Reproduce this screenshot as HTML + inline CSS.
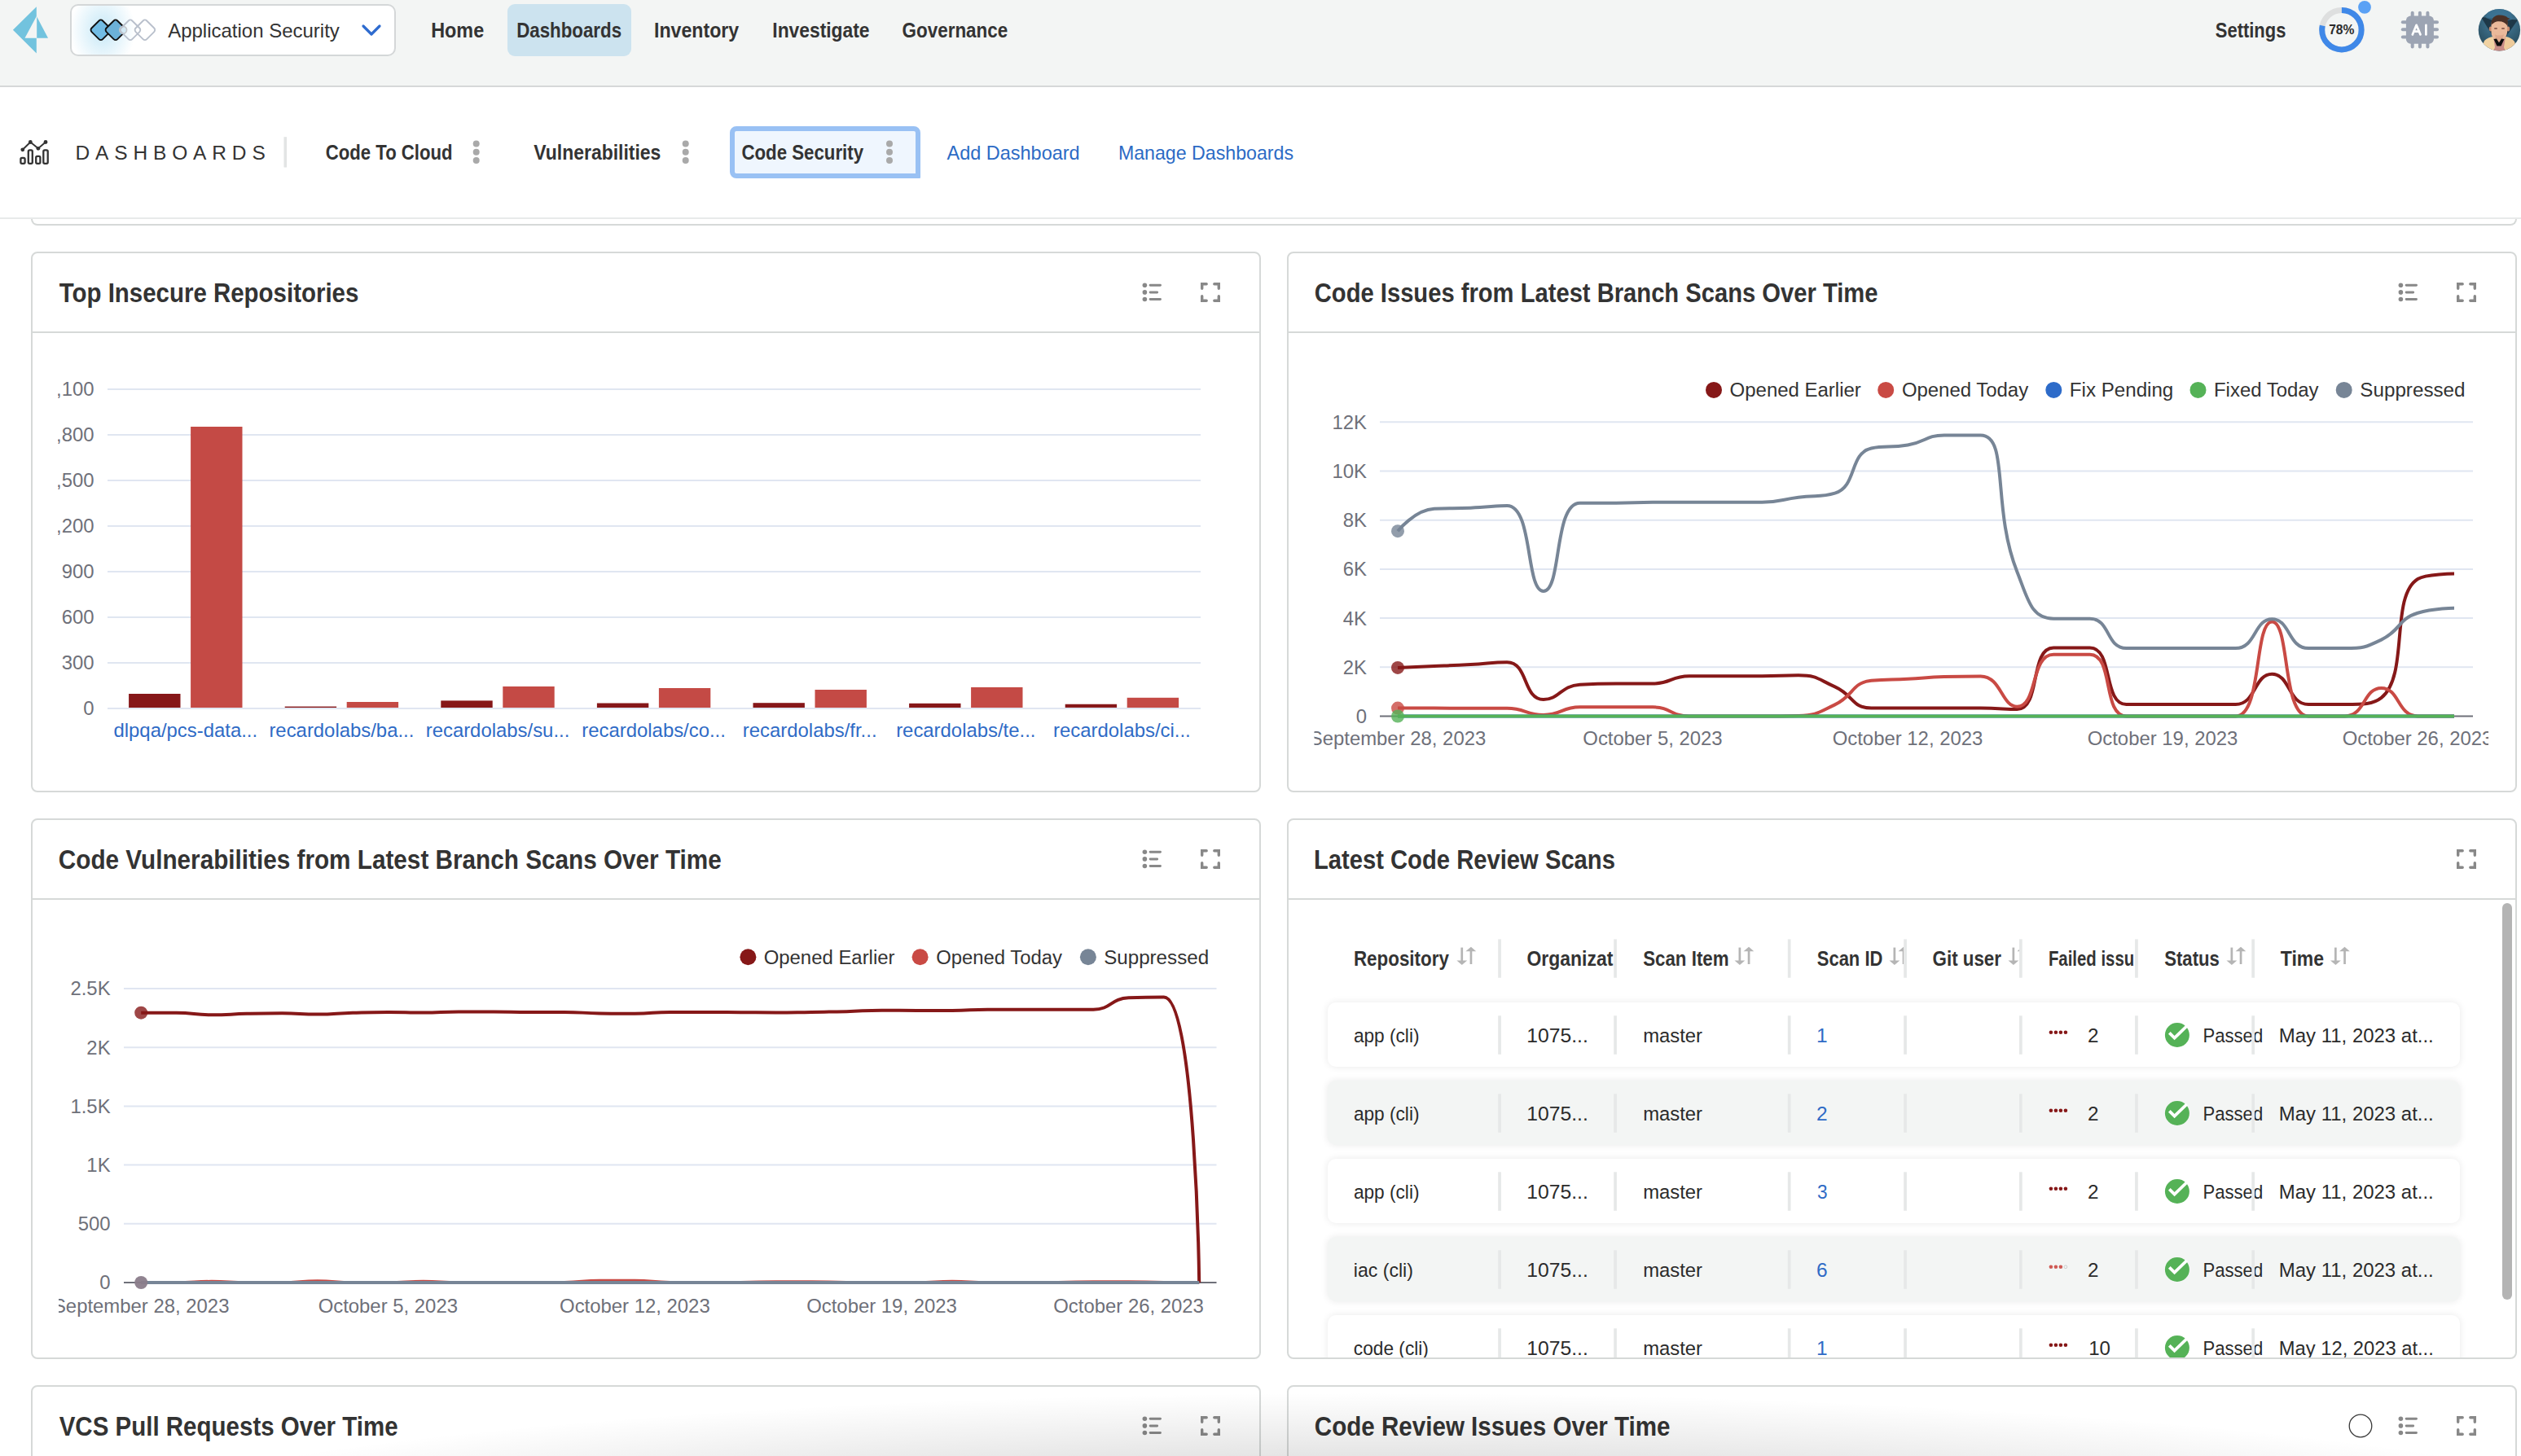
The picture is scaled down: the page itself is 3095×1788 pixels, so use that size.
<!DOCTYPE html>
<html><head><meta charset="utf-8"><title>Dashboards - Application Security</title>
<style>html,body{margin:0;padding:0}
body{width:3095px;height:1788px;overflow:hidden;position:relative;background:#fff;font-family:"Liberation Sans",sans-serif}
.ov{position:absolute;left:0;top:0;z-index:10}
.fade{position:absolute;left:0;top:1600px;width:3095px;height:188px;z-index:20;pointer-events:none;
background:radial-gradient(ellipse 1650px 190px at 1680px 300px, rgba(0,0,0,0.25), rgba(0,0,0,0) 100%)}

.nav{position:absolute;left:0;top:0;width:3095px;height:105px;background:#f3f5f4;border-bottom:2px solid #d6d8d8}
.dbar{position:absolute;left:0;top:107px;width:3095px;height:160px;background:#fff;border-bottom:2px solid #e8eaea;z-index:2}
.prevcard{position:absolute;left:38px;top:150px;width:3048px;height:125px;border:2px solid #d6d9d8;border-top:none;border-radius:0 0 8px 8px;background:#fff;z-index:1}
.appsel{position:absolute;left:86px;top:5px;width:396px;height:60px;border:2px solid #d4d7d8;border-radius:10px;background:#fff;overflow:hidden}
.glow{position:absolute;left:-2px;top:-20px;width:80px;height:100px;background:radial-gradient(closest-side,rgba(120,200,235,0.42),rgba(120,200,235,0))}
.navhl{position:absolute;left:623px;top:5px;width:152px;height:64px;border-radius:9px;background:#cce3ef}
.cssel{position:absolute;left:896px;top:155px;width:222px;height:52px;border:6px solid #99c1f4;border-radius:8px 8px 1px 8px;background:#eff6fe;z-index:3}

.card{position:absolute;width:1506px;height:660px;border:2px solid #d6d9d8;border-radius:8px;background:#fff}
.chd{position:absolute;left:0;top:0;width:1506px;height:96px;border-bottom:2px solid #d6d9d8}

.tclip{position:absolute;left:1582px;top:1106px;width:1506px;height:561px;overflow:hidden;border-radius:0 0 6px 6px}
.trow{position:absolute;left:48px;width:1390px;height:79px;border-radius:10px}
.trow.w{background:#fff;box-shadow:0 0 10px rgba(0,0,0,0.09)}
.trow.g{background:#f3f5f4;box-shadow:0 0 10px rgba(0,0,0,0.09)}
.tscroll{position:absolute;left:1490px;top:3px;width:12px;height:487px;border-radius:6px;background:#b4b4b4}
</style></head>
<body>
<div class="nav"></div><div class="dbar"></div>
<div class="prevcard"></div>
<div class="appsel"><div class="glow"></div></div>
<div class="navhl"></div>
<div class="cssel"></div>
<div class="card" style="left:38px;top:309px"><div class="chd"></div></div><div class="card" style="left:1580px;top:309px"><div class="chd"></div></div><div class="card" style="left:38px;top:1005px"><div class="chd"></div></div><div class="card" style="left:1580px;top:1005px"><div class="chd"></div></div><div class="card" style="left:38px;top:1701px"><div class="chd"></div></div><div class="card" style="left:1580px;top:1701px"><div class="chd"></div></div><div class="tclip"><div class="trow w" style="top:125px"></div><div class="trow g" style="top:221px"></div><div class="trow w" style="top:317px"></div><div class="trow g" style="top:413px"></div><div class="trow w" style="top:509px"></div><div class="tscroll"></div></div>
<svg class="ov" width="3095" height="1788" viewBox="0 0 3095 1788" font-family="Liberation Sans, sans-serif">
<defs>
<clipPath id="c1clip"><rect x="71" y="400" width="1470" height="560"/></clipPath>
<clipPath id="c2clip"><rect x="1613.5" y="400" width="1441.5" height="560"/></clipPath>
<clipPath id="c3clip"><rect x="72" y="1100" width="1470" height="560"/></clipPath>
<clipPath id="tclip"><rect x="1582" y="1106" width="1506" height="561"/></clipPath>
</defs><defs><clipPath id="passclip"><rect x="2700" y="1100" width="66" height="600"/></clipPath>
<clipPath id="gitclip"><rect x="2440" y="1150" width="39" height="50"/></clipPath>
<clipPath id="sidclip"><rect x="2300" y="1150" width="37.2" height="50"/></clipPath></defs><polygon points="44.8,8.2 44.8,20 30.5,46.7 44.8,46.7 44.8,65.4 15.9,36.8" fill="#72c3de"/><polygon points="45.2,20.6 59,46.7 45.2,46.7" fill="#72c3de"/><rect x="114.18" y="27.18" width="19.23" height="19.23" rx="3.2" transform="rotate(45 123.8 36.8)" fill="#72bce4" stroke="#111" stroke-width="1.9"/><rect x="132.28" y="27.18" width="19.23" height="19.23" rx="3.2" transform="rotate(45 141.9 36.8)" fill="#6cb1d8" stroke="#111" stroke-width="1.9"/><circle cx="151.2" cy="36.8" r="4.4" fill="#d2e9f4" stroke="#c4c6ca" stroke-width="1.6"/><rect x="150.38" y="27.18" width="19.23" height="19.23" rx="3.2" transform="rotate(45 160.0 36.8)" fill="none" stroke="#b9c0cc" stroke-width="1.9"/><rect x="168.28" y="27.18" width="19.23" height="19.23" rx="3.2" transform="rotate(45 177.9 36.8)" fill="none" stroke="#b9c0cc" stroke-width="1.9"/><text x="206.20" y="45.70" font-size="24" fill="#333" textLength="210.60" lengthAdjust="spacingAndGlyphs">Application Security</text><polyline points="446,32 456,42 466,32" fill="none" stroke="#2e6bcf" stroke-width="3.2" stroke-linecap="round" stroke-linejoin="round"/><text x="529.18" y="46.10" font-size="25.5" font-weight="bold" fill="#333" textLength="64.98" lengthAdjust="spacingAndGlyphs">Home</text><text x="634.13" y="46.10" font-size="25.5" font-weight="bold" fill="#333" textLength="128.93" lengthAdjust="spacingAndGlyphs">Dashboards</text><text x="802.99" y="46.10" font-size="25.5" font-weight="bold" fill="#333" textLength="104.17" lengthAdjust="spacingAndGlyphs">Inventory</text><text x="948.30" y="46.10" font-size="25.5" font-weight="bold" fill="#333" textLength="119.26" lengthAdjust="spacingAndGlyphs">Investigate</text><text x="1107.52" y="46.10" font-size="25.5" font-weight="bold" fill="#333" textLength="129.74" lengthAdjust="spacingAndGlyphs">Governance</text><text x="2719.80" y="45.50" font-size="25.5" font-weight="bold" fill="#333" textLength="86.56" lengthAdjust="spacingAndGlyphs">Settings</text><circle cx="2874.9" cy="36.7" r="24.2" fill="none" stroke="#dedfdf" stroke-width="7"/><circle cx="2874.9" cy="36.7" r="24.2" fill="none" stroke="#3f88e8" stroke-width="7" stroke-dasharray="118.60 152.05" transform="rotate(-90 2874.9 36.7)"/><text x="2859.20" y="41.70" font-size="17" font-weight="bold" fill="#2b2b2b" textLength="31.21" lengthAdjust="spacingAndGlyphs">78%</text><circle cx="2903" cy="8.8" r="7.9" fill="#5aa1f5"/><g fill="#9ca4b3"><rect x="2953.9" y="19.6" width="34" height="34.1" rx="5.5"/><rect x="2959.7" y="13.8" width="4" height="8" rx="2"/><rect x="2959.7" y="51.4" width="4" height="8" rx="2"/><rect x="2968.9" y="13.8" width="4" height="8" rx="2"/><rect x="2968.9" y="51.4" width="4" height="8" rx="2"/><rect x="2978.4" y="13.8" width="4" height="8" rx="2"/><rect x="2978.4" y="51.4" width="4" height="8" rx="2"/><rect x="2947.8" y="25.2" width="8" height="4" rx="2"/><rect x="2986" y="25.2" width="8" height="4" rx="2"/><rect x="2947.8" y="34.3" width="8" height="4" rx="2"/><rect x="2986" y="34.3" width="8" height="4" rx="2"/><rect x="2947.8" y="43.5" width="8" height="4" rx="2"/><rect x="2986" y="43.5" width="8" height="4" rx="2"/></g><g fill="none" stroke="#fff" stroke-width="2.7" stroke-linecap="round" stroke-linejoin="round"><polyline points="2961.8,42.4 2966.6,30.8 2971.5,42.4"/><line x1="2963.6" y1="38.6" x2="2969.6" y2="38.6"/><line x1="2978.4" y1="30.8" x2="2978.4" y2="42.4"/></g><defs><clipPath id="avc"><circle cx="3068.4" cy="36.8" r="25.7"/></clipPath>
<radialGradient id="avbg" cx="0.5" cy="0.3" r="0.75"><stop offset="0" stop-color="#4a86a8"/><stop offset="1" stop-color="#22414f"/></radialGradient></defs>
<g clip-path="url(#avc)">
<rect x="3040" y="9" width="58" height="56" fill="url(#avbg)"/>
<polygon points="3046,21 3091,24.5 3068,57" fill="#1b3240" opacity="0.9"/>
<polygon points="3056,10 3082,10 3084,24 3068,28 3052,22" fill="#3a7293" opacity="0.75"/>
<path d="M3059,46 L3077,46 L3078,66 L3058,66 Z" fill="#c78b86"/>
<path d="M3044,66 L3050,50 C3053,47 3057,45.5 3061,45 L3063,58 L3060,66 Z" fill="#f1d3a3"/>
<path d="M3092,66 L3087,51 C3084,47 3080,45.5 3076,45 L3074,58 L3077,66 Z" fill="#eecb9a"/>

<ellipse cx="3057.8" cy="35.5" rx="2" ry="3" fill="#c98c70"/>
<ellipse cx="3079.2" cy="35.5" rx="2" ry="3" fill="#c98c70"/>
<path d="M3058.5,30 C3058.5,24 3062,22 3068,22 C3074,22 3078.5,24 3078.5,30 L3078,40 C3077,46 3073,51 3068,51 C3063,51 3059,46 3058.5,40 Z" fill="#eab99a"/>
<path d="M3063,42 C3065,44 3071,44 3074,42 C3073,47 3071,50.5 3068,51 C3065,50.5 3063.5,47 3063,42 Z" fill="#d9a084" opacity="0.7"/><polygon points="3061.5,48 3065,47.5 3068,52.5 3071,47.5 3074.5,48 3070.5,56.5 3065.5,56.5" fill="#0e0e0e"/>
<path d="M3058.5,31 C3058,24 3061,19.5 3067,18.5 C3072,18 3077,19.5 3079,22 L3082,23 L3078.5,24.5 C3079,27 3078.8,30 3078.5,32 C3076,27.5 3071,25.5 3065,26.5 C3062,27.5 3060,29 3058.5,31 Z" fill="#4b3127"/>
<ellipse cx="3064" cy="35" rx="2.2" ry="1" fill="#8c5f52"/>
<ellipse cx="3073" cy="35" rx="2.2" ry="1" fill="#8c5f52"/>
</g><g fill="none" stroke="#333" stroke-width="2.3" stroke-linejoin="round"><polyline points="27.8,183.8 37.3,174.5 46.9,182.3 56,174.5" stroke-width="1.9"/><rect x="25.4" y="193.8" width="5.2" height="7" rx="1.6"/><rect x="34.8" y="184.3" width="5.0" height="16.5" rx="1.6"/><rect x="44.2" y="191.9" width="5.2" height="8.9" rx="1.6"/><rect x="53.3" y="184.3" width="5.4" height="16.5" rx="1.6"/></g><g fill="#333"><circle cx="27.8" cy="183.8" r="2.4"/><circle cx="37.3" cy="174.5" r="2.4"/><circle cx="46.9" cy="182.3" r="2.4"/><circle cx="56" cy="174.5" r="2.4"/></g><text x="92.48" y="196.00" font-size="24.5" fill="#333" textLength="233.28" lengthAdjust="spacing">DASHBOARDS</text><rect x="348.5" y="168.2" width="3.6" height="37.3" fill="#e2e4e4"/><text x="399.73" y="196.00" font-size="25.5" font-weight="bold" fill="#333" textLength="155.84" lengthAdjust="spacingAndGlyphs">Code To Cloud</text><circle cx="584.7" cy="176.5" r="4" fill="#a9a9a9"/><circle cx="584.7" cy="186.8" r="4" fill="#a9a9a9"/><circle cx="584.7" cy="197.1" r="4" fill="#a9a9a9"/><text x="655.30" y="196.00" font-size="25.5" font-weight="bold" fill="#333" textLength="156.06" lengthAdjust="spacingAndGlyphs">Vulnerabilities</text><circle cx="841.7" cy="176.5" r="4" fill="#a9a9a9"/><circle cx="841.7" cy="186.8" r="4" fill="#a9a9a9"/><circle cx="841.7" cy="197.1" r="4" fill="#a9a9a9"/><text x="910.43" y="196.00" font-size="25.5" font-weight="bold" fill="#333" textLength="149.66" lengthAdjust="spacingAndGlyphs">Code Security</text><circle cx="1092.0" cy="176.5" r="4" fill="#a9a9a9"/><circle cx="1092.0" cy="186.8" r="4" fill="#a9a9a9"/><circle cx="1092.0" cy="197.1" r="4" fill="#a9a9a9"/><text x="1162.50" y="195.50" font-size="24" fill="#2c6bc5" textLength="163.12" lengthAdjust="spacingAndGlyphs">Add Dashboard</text><text x="1372.93" y="195.50" font-size="24" fill="#2c6bc5" textLength="215.07" lengthAdjust="spacingAndGlyphs">Manage Dashboards</text><text x="72.70" y="371.20" font-size="32.5" font-weight="bold" fill="#333" textLength="367.67" lengthAdjust="spacingAndGlyphs">Top Insecure Repositories</text><g fill="#888"><circle cx="1405.4" cy="350.2" r="2.8"/><rect x="1410.7" y="348.7" width="15.2" height="3" rx="1.4"/><circle cx="1405.4" cy="358.9" r="2.8"/><rect x="1410.7" y="357.4" width="11.4" height="3" rx="1.4"/><circle cx="1405.4" cy="367.5" r="2.8"/><rect x="1410.7" y="366.0" width="15.2" height="3" rx="1.4"/></g><path d="M1475.7,354.2 V348.7 H1481.2 M1490.8,348.7 H1496.3 V354.2 M1496.3,363.8 V369.3 H1490.8 M1481.2,369.3 H1475.7 V363.8" fill="none" stroke="#888" stroke-width="3.4" stroke-linecap="round" stroke-linejoin="miter"/><text x="1613.80" y="371.20" font-size="32.5" font-weight="bold" fill="#333" textLength="691.66" lengthAdjust="spacingAndGlyphs">Code Issues from Latest Branch Scans Over Time</text><g fill="#888"><circle cx="2947.4" cy="350.2" r="2.8"/><rect x="2952.7" y="348.7" width="15.2" height="3" rx="1.4"/><circle cx="2947.4" cy="358.9" r="2.8"/><rect x="2952.7" y="357.4" width="11.4" height="3" rx="1.4"/><circle cx="2947.4" cy="367.5" r="2.8"/><rect x="2952.7" y="366.0" width="15.2" height="3" rx="1.4"/></g><path d="M3017.7,354.2 V348.7 H3023.2 M3032.8,348.7 H3038.3 V354.2 M3038.3,363.8 V369.3 H3032.8 M3023.2,369.3 H3017.7 V363.8" fill="none" stroke="#888" stroke-width="3.4" stroke-linecap="round" stroke-linejoin="miter"/><text x="71.79" y="1067.20" font-size="32.5" font-weight="bold" fill="#333" textLength="813.90" lengthAdjust="spacingAndGlyphs">Code Vulnerabilities from Latest Branch Scans Over Time</text><g fill="#888"><circle cx="1405.4" cy="1046.2" r="2.8"/><rect x="1410.7" y="1044.7" width="15.2" height="3" rx="1.4"/><circle cx="1405.4" cy="1054.9" r="2.8"/><rect x="1410.7" y="1053.4" width="11.4" height="3" rx="1.4"/><circle cx="1405.4" cy="1063.5" r="2.8"/><rect x="1410.7" y="1062.0" width="15.2" height="3" rx="1.4"/></g><path d="M1475.7,1050.2 V1044.7 H1481.2 M1490.8,1044.7 H1496.3 V1050.2 M1496.3,1059.8 V1065.3 H1490.8 M1481.2,1065.3 H1475.7 V1059.8" fill="none" stroke="#888" stroke-width="3.4" stroke-linecap="round" stroke-linejoin="miter"/><text x="1612.90" y="1067.20" font-size="32.5" font-weight="bold" fill="#333" textLength="370.06" lengthAdjust="spacingAndGlyphs">Latest Code Review Scans</text><path d="M3017.7,1050.2 V1044.7 H3023.2 M3032.8,1044.7 H3038.3 V1050.2 M3038.3,1059.8 V1065.3 H3032.8 M3023.2,1065.3 H3017.7 V1059.8" fill="none" stroke="#888" stroke-width="3.4" stroke-linecap="round" stroke-linejoin="miter"/><text x="72.70" y="1763.20" font-size="32.5" font-weight="bold" fill="#333" textLength="415.88" lengthAdjust="spacingAndGlyphs">VCS Pull Requests Over Time</text><g fill="#888"><circle cx="1405.4" cy="1742.2" r="2.8"/><rect x="1410.7" y="1740.7" width="15.2" height="3" rx="1.4"/><circle cx="1405.4" cy="1750.9" r="2.8"/><rect x="1410.7" y="1749.4" width="11.4" height="3" rx="1.4"/><circle cx="1405.4" cy="1759.5" r="2.8"/><rect x="1410.7" y="1758.0" width="15.2" height="3" rx="1.4"/></g><path d="M1475.7,1746.2 V1740.7 H1481.2 M1490.8,1740.7 H1496.3 V1746.2 M1496.3,1755.8 V1761.3 H1490.8 M1481.2,1761.3 H1475.7 V1755.8" fill="none" stroke="#888" stroke-width="3.4" stroke-linecap="round" stroke-linejoin="miter"/><text x="1613.79" y="1763.20" font-size="32.5" font-weight="bold" fill="#333" textLength="436.79" lengthAdjust="spacingAndGlyphs">Code Review Issues Over Time</text><g fill="#888"><circle cx="2947.4" cy="1742.2" r="2.8"/><rect x="2952.7" y="1740.7" width="15.2" height="3" rx="1.4"/><circle cx="2947.4" cy="1750.9" r="2.8"/><rect x="2952.7" y="1749.4" width="11.4" height="3" rx="1.4"/><circle cx="2947.4" cy="1759.5" r="2.8"/><rect x="2952.7" y="1758.0" width="15.2" height="3" rx="1.4"/></g><path d="M3017.7,1746.2 V1740.7 H3023.2 M3032.8,1740.7 H3038.3 V1746.2 M3038.3,1755.8 V1761.3 H3032.8 M3023.2,1761.3 H3017.7 V1755.8" fill="none" stroke="#888" stroke-width="3.4" stroke-linecap="round" stroke-linejoin="miter"/><circle cx="2898" cy="1751" r="13.8" fill="none" stroke="#3a3a3a" stroke-width="1.3"/><g stroke="#e0e6f1" stroke-width="2"><line x1="132" y1="870" x2="1474" y2="870"/><line x1="132" y1="814" x2="1474" y2="814"/><line x1="132" y1="758" x2="1474" y2="758"/><line x1="132" y1="702" x2="1474" y2="702"/><line x1="132" y1="646" x2="1474" y2="646"/><line x1="132" y1="590" x2="1474" y2="590"/><line x1="132" y1="534" x2="1474" y2="534"/><line x1="132" y1="478" x2="1474" y2="478"/></g><g clip-path="url(#c1clip)"><text x="115.50" y="878.40" font-size="23.9" fill="#6e7079" text-anchor="end">0</text><text x="115.50" y="822.40" font-size="23.9" fill="#6e7079" text-anchor="end">300</text><text x="115.50" y="766.40" font-size="23.9" fill="#6e7079" text-anchor="end">600</text><text x="115.50" y="710.40" font-size="23.9" fill="#6e7079" text-anchor="end">900</text><text x="115.50" y="654.40" font-size="23.9" fill="#6e7079" text-anchor="end">1,200</text><text x="115.50" y="598.40" font-size="23.9" fill="#6e7079" text-anchor="end">1,500</text><text x="115.50" y="542.40" font-size="23.9" fill="#6e7079" text-anchor="end">1,800</text><text x="115.50" y="486.40" font-size="23.9" fill="#6e7079" text-anchor="end">2,100</text></g><rect x="158.1" y="852" width="63.4" height="17.0" fill="#861719"/><rect x="234.1" y="524" width="63.4" height="345.0" fill="#c44a45"/><text x="227.80" y="904.80" font-size="23.9" fill="#2f6bc6" text-anchor="middle">dlpqa/pcs-data...</text><rect x="349.7" y="867.6" width="63.4" height="1.4" fill="#861719"/><rect x="425.7" y="862" width="63.4" height="7.0" fill="#c44a45"/><text x="419.40" y="904.80" font-size="23.9" fill="#2f6bc6" text-anchor="middle">recardolabs/ba...</text><rect x="541.3" y="860.4" width="63.4" height="8.6" fill="#861719"/><rect x="617.3" y="843" width="63.4" height="26.0" fill="#c44a45"/><text x="611.00" y="904.80" font-size="23.9" fill="#2f6bc6" text-anchor="middle">recardolabs/su...</text><rect x="732.9" y="863.5" width="63.4" height="5.5" fill="#861719"/><rect x="808.9" y="845" width="63.4" height="24.0" fill="#c44a45"/><text x="802.60" y="904.80" font-size="23.9" fill="#2f6bc6" text-anchor="middle">recardolabs/co...</text><rect x="924.5" y="863.2" width="63.4" height="5.8" fill="#861719"/><rect x="1000.5" y="847" width="63.4" height="22.0" fill="#c44a45"/><text x="994.20" y="904.80" font-size="23.9" fill="#2f6bc6" text-anchor="middle">recardolabs/fr...</text><rect x="1116.1" y="863.8" width="63.4" height="5.2" fill="#861719"/><rect x="1192.1" y="844" width="63.4" height="25.0" fill="#c44a45"/><text x="1185.80" y="904.80" font-size="23.9" fill="#2f6bc6" text-anchor="middle">recardolabs/te...</text><rect x="1307.7" y="864.75" width="63.4" height="4.2" fill="#861719"/><rect x="1383.7" y="856.8" width="63.4" height="12.2" fill="#c44a45"/><text x="1377.40" y="904.80" font-size="23.9" fill="#2f6bc6" text-anchor="middle">recardolabs/ci...</text><g stroke="#e0e6f1" stroke-width="2"><line x1="1694" y1="819.3" x2="3036" y2="819.3"/><line x1="1694" y1="759.1" x2="3036" y2="759.1"/><line x1="1694" y1="698.9" x2="3036" y2="698.9"/><line x1="1694" y1="638.7" x2="3036" y2="638.7"/><line x1="1694" y1="578.5" x2="3036" y2="578.5"/><line x1="1694" y1="518.3" x2="3036" y2="518.3"/></g><line x1="1694" y1="879.5" x2="3036" y2="879.5" stroke="#6e7079" stroke-width="2"/><text x="1678.00" y="887.90" font-size="23.9" fill="#6e7079" text-anchor="end">0</text><text x="1678.00" y="827.70" font-size="23.9" fill="#6e7079" text-anchor="end">2K</text><text x="1678.00" y="767.50" font-size="23.9" fill="#6e7079" text-anchor="end">4K</text><text x="1678.00" y="707.30" font-size="23.9" fill="#6e7079" text-anchor="end">6K</text><text x="1678.00" y="647.10" font-size="23.9" fill="#6e7079" text-anchor="end">8K</text><text x="1678.00" y="586.90" font-size="23.9" fill="#6e7079" text-anchor="end">10K</text><text x="1678.00" y="526.70" font-size="23.9" fill="#6e7079" text-anchor="end">12K</text><g clip-path="url(#c2clip)"><text x="1716.00" y="915.30" font-size="23.9" fill="#6e7079" text-anchor="middle">September 28, 2023</text><text x="2029.00" y="915.30" font-size="23.9" fill="#6e7079" text-anchor="middle">October 5, 2023</text><text x="2342.00" y="915.30" font-size="23.9" fill="#6e7079" text-anchor="middle">October 12, 2023</text><text x="2655.00" y="915.30" font-size="23.9" fill="#6e7079" text-anchor="middle">October 19, 2023</text><text x="2968.00" y="915.30" font-size="23.9" fill="#6e7079" text-anchor="middle">October 26, 2023</text></g><path d="M1716.00,819.90C1716.00,819.90 1738.37,819.07 1760.72,818.10C1783.09,817.12 1783.09,817.19 1805.45,815.99C1827.82,814.78 1831.75,813.28 1850.17,813.28C1876.48,813.28 1869.42,859.03 1894.90,859.03C1914.15,859.03 1916.39,841.97 1939.62,840.67C1961.12,839.47 1961.98,839.47 1984.34,839.47C2006.70,839.47 2006.94,839.47 2029.07,839.47C2051.67,839.47 2051.19,830.14 2073.79,830.14C2095.92,830.14 2096.15,830.14 2118.52,830.14C2140.88,830.14 2140.88,830.14 2163.24,830.14C2185.60,830.14 2186.13,829.23 2207.96,829.23C2230.86,829.23 2231.44,833.80 2252.69,843.38C2276.16,853.97 2273.40,869.57 2297.41,869.57C2318.13,869.57 2319.77,869.57 2342.14,869.57C2364.50,869.57 2364.50,869.57 2386.86,869.57C2409.22,869.57 2409.23,869.57 2431.58,869.57C2453.95,869.57 2461.21,871.07 2476.31,871.07C2505.93,871.07 2491.40,795.52 2521.03,795.52C2536.13,795.52 2550.06,795.52 2565.76,795.52C2594.78,795.52 2581.46,865.05 2610.48,865.05C2626.18,865.05 2632.84,865.05 2655.20,865.05C2677.57,865.05 2677.57,865.05 2699.93,865.05C2722.29,865.05 2725.23,865.05 2744.65,865.05C2769.95,865.05 2767.01,827.73 2789.38,827.73C2811.74,827.73 2808.80,865.05 2834.10,865.05C2853.52,865.05 2856.64,865.05 2878.82,865.05C2901.37,865.05 2913.29,865.05 2923.55,856.92C2958.01,829.63 2933.76,732.31 2968.27,710.94C2978.48,704.62 3013.00,704.62 3013.00,704.62" fill="none" stroke="#861818" stroke-width="4" stroke-linejoin="round"/><path d="M1716.00,869.57C1716.00,869.57 1738.36,869.57 1760.72,869.57C1783.09,869.57 1783.09,869.87 1805.45,869.87C1827.81,869.87 1827.99,869.87 1850.17,869.87C1872.72,869.87 1872.61,878.00 1894.90,878.00C1917.33,878.00 1917.00,868.36 1939.62,868.36C1961.73,868.36 1961.98,868.36 1984.34,868.36C2006.71,868.36 2007.04,868.36 2029.07,868.36C2051.77,868.36 2051.09,879.50 2073.79,879.50C2095.82,879.50 2096.15,879.50 2118.52,879.50C2140.88,879.50 2140.88,879.50 2163.24,879.50C2185.60,879.50 2186.09,879.50 2207.96,878.90C2230.82,878.27 2231.85,875.38 2252.69,865.35C2276.58,853.86 2273.05,838.38 2297.41,835.86C2317.77,833.75 2319.78,834.95 2342.14,833.75C2364.51,832.54 2364.48,831.64 2386.86,831.04C2409.20,830.44 2412.16,830.44 2431.58,830.44C2456.88,830.44 2457.21,867.76 2476.31,867.76C2501.94,867.76 2492.58,803.65 2521.03,803.65C2537.31,803.65 2550.69,803.65 2565.76,803.65C2595.42,803.65 2580.82,879.50 2610.48,879.50C2625.54,879.50 2632.84,879.50 2655.20,879.50C2677.57,879.50 2677.57,879.50 2699.93,879.50C2722.29,879.50 2732.81,879.50 2744.65,879.50C2777.54,879.50 2767.01,763.62 2789.38,763.62C2811.74,763.62 2801.22,879.50 2834.10,879.50C2845.94,879.50 2859.07,879.50 2878.82,879.50C2903.80,879.50 2901.19,844.88 2923.55,844.88C2945.91,844.88 2943.30,879.50 2968.27,879.50C2988.02,879.50 3013.00,879.50 3013.00,879.50" fill="none" stroke="#c94a44" stroke-width="4" stroke-linejoin="round"/><path d="M1716.00,879.50C1716.00,879.50 1738.36,879.50 1760.72,879.50C1783.09,879.50 1783.09,879.50 1805.45,879.50C1827.81,879.50 1827.81,879.50 1850.17,879.50C1872.53,879.50 1872.53,879.50 1894.90,879.50C1917.26,879.50 1917.26,879.50 1939.62,879.50C1961.98,879.50 1961.98,879.50 1984.34,879.50C2006.71,879.50 2006.71,879.50 2029.07,879.50C2051.43,879.50 2051.43,879.50 2073.79,879.50C2096.15,879.50 2096.15,879.50 2118.52,879.50C2140.88,879.50 2140.88,879.50 2163.24,879.50C2185.60,879.50 2185.60,879.50 2207.96,879.50C2230.33,879.50 2230.33,879.50 2252.69,879.50C2275.05,879.50 2275.05,879.50 2297.41,879.50C2319.77,879.50 2319.77,879.50 2342.14,879.50C2364.50,879.50 2364.50,879.50 2386.86,879.50C2409.22,879.50 2409.22,879.50 2431.58,879.50C2453.95,879.50 2453.95,879.50 2476.31,879.50C2498.67,879.50 2498.67,879.50 2521.03,879.50C2543.39,879.50 2543.39,879.50 2565.76,879.50C2588.12,879.50 2588.12,879.50 2610.48,879.50C2632.84,879.50 2632.84,879.50 2655.20,879.50C2677.57,879.50 2677.57,879.50 2699.93,879.50C2722.29,879.50 2722.29,879.50 2744.65,879.50C2767.01,879.50 2767.01,879.50 2789.38,879.50C2811.74,879.50 2811.74,879.50 2834.10,879.50C2856.46,879.50 2856.46,879.50 2878.82,879.50C2901.19,879.50 2901.19,879.50 2923.55,879.50C2945.91,879.50 2945.91,879.50 2968.27,879.50C2990.63,879.50 3013.00,879.50 3013.00,879.50" fill="none" stroke="#2d6bc9" stroke-width="4" stroke-linejoin="round"/><path d="M1716.00,879.50C1716.00,879.50 1738.36,879.50 1760.72,879.50C1783.09,879.50 1783.09,879.50 1805.45,879.50C1827.81,879.50 1827.81,879.50 1850.17,879.50C1872.53,879.50 1872.53,879.50 1894.90,879.50C1917.26,879.50 1917.26,879.50 1939.62,879.50C1961.98,879.50 1961.98,879.50 1984.34,879.50C2006.71,879.50 2006.71,879.50 2029.07,879.50C2051.43,879.50 2051.43,879.50 2073.79,879.50C2096.15,879.50 2096.15,879.50 2118.52,879.50C2140.88,879.50 2140.88,879.50 2163.24,879.50C2185.60,879.50 2185.60,879.50 2207.96,879.50C2230.33,879.50 2230.33,879.50 2252.69,879.50C2275.05,879.50 2275.05,879.50 2297.41,879.50C2319.77,879.50 2319.77,879.50 2342.14,879.50C2364.50,879.50 2364.50,879.50 2386.86,879.50C2409.22,879.50 2409.22,879.50 2431.58,879.50C2453.95,879.50 2453.95,879.50 2476.31,879.50C2498.67,879.50 2498.67,879.50 2521.03,879.50C2543.39,879.50 2543.39,879.50 2565.76,879.50C2588.12,879.50 2588.12,879.50 2610.48,879.50C2632.84,879.50 2632.84,879.50 2655.20,879.50C2677.57,879.50 2677.57,879.50 2699.93,879.50C2722.29,879.50 2722.29,879.50 2744.65,879.50C2767.01,879.50 2767.01,879.50 2789.38,879.50C2811.74,879.50 2811.74,879.50 2834.10,879.50C2856.46,879.50 2856.46,879.50 2878.82,879.50C2901.19,879.50 2901.19,879.50 2923.55,879.50C2945.91,879.50 2945.91,879.50 2968.27,879.50C2990.63,879.50 3013.00,879.50 3013.00,879.50" fill="none" stroke="#55b257" stroke-width="4" stroke-linejoin="round"/><path d="M1716.00,652.25C1716.00,652.25 1736.59,626.27 1760.72,624.85C1781.31,623.65 1783.10,624.63 1805.45,623.65C1827.83,622.67 1837.57,620.94 1850.17,620.94C1882.29,620.94 1872.83,725.99 1894.90,725.99C1917.55,725.99 1907.25,617.63 1939.62,617.63C1951.97,617.63 1961.98,617.63 1984.34,617.63C2006.71,617.63 2006.70,616.73 2029.07,616.73C2051.43,616.73 2051.43,616.73 2073.79,616.73C2096.15,616.73 2096.15,616.73 2118.52,616.73C2140.88,616.73 2140.98,616.73 2163.24,616.73C2185.70,616.73 2185.57,613.49 2207.96,610.71C2230.30,607.93 2235.33,610.71 2252.69,605.59C2280.05,597.52 2270.02,556.69 2297.41,550.51C2314.74,546.59 2320.12,550.51 2342.14,546.59C2364.85,542.56 2364.11,534.55 2386.86,534.55C2408.83,534.55 2422.41,534.55 2431.58,534.55C2467.13,534.55 2444.85,622.74 2476.31,701.91C2489.58,735.31 2493.29,759.70 2521.03,759.70C2538.01,759.70 2546.22,759.70 2565.76,759.70C2590.95,759.70 2585.29,796.12 2610.48,796.12C2630.01,796.12 2632.84,796.12 2655.20,796.12C2677.57,796.12 2677.57,796.12 2699.93,796.12C2722.29,796.12 2725.05,796.12 2744.65,796.12C2769.77,796.12 2767.01,760.30 2789.38,760.30C2811.74,760.30 2808.98,796.12 2834.10,796.12C2853.71,796.12 2856.76,796.12 2878.82,796.12C2901.49,796.12 2903.29,795.41 2923.55,785.59C2948.01,773.73 2943.61,760.18 2968.27,752.78C2988.34,746.76 3013.00,746.76 3013.00,746.76" fill="none" stroke="#778596" stroke-width="4" stroke-linejoin="round"/><circle cx="1716.0" cy="819.9" r="8" fill="#861818" opacity="0.8"/><circle cx="1716.0" cy="869.6" r="8" fill="#c94a44" opacity="0.8"/><circle cx="1716.0" cy="879.5" r="8" fill="#55b257" opacity="0.8"/><circle cx="1716.0" cy="652.2" r="8" fill="#778596" opacity="0.8"/><circle cx="2104" cy="478.9" r="10" fill="#861818"/><text x="2123.58" y="487.20" font-size="23.5" fill="#333" textLength="161.24" lengthAdjust="spacingAndGlyphs">Opened Earlier</text><circle cx="2315.2" cy="478.9" r="10" fill="#c94a44"/><text x="2334.88" y="487.20" font-size="23.5" fill="#333" textLength="155.26" lengthAdjust="spacingAndGlyphs">Opened Today</text><circle cx="2521.3" cy="478.9" r="10" fill="#2d6bc9"/><text x="2540.87" y="487.20" font-size="23.5" fill="#333" textLength="127.43" lengthAdjust="spacingAndGlyphs">Fix Pending</text><circle cx="2698.5" cy="478.9" r="10" fill="#55b257"/><text x="2717.99" y="487.20" font-size="23.5" fill="#333" textLength="128.56" lengthAdjust="spacingAndGlyphs">Fixed Today</text><circle cx="2877.7" cy="478.9" r="10" fill="#778596"/><text x="2897.37" y="487.20" font-size="23.5" fill="#333" textLength="129.13" lengthAdjust="spacingAndGlyphs">Suppressed</text><g stroke="#e0e6f1" stroke-width="2"><line x1="152" y1="1502.8" x2="1493.5" y2="1502.8"/><line x1="152" y1="1430.6" x2="1493.5" y2="1430.6"/><line x1="152" y1="1358.4" x2="1493.5" y2="1358.4"/><line x1="152" y1="1286.2" x2="1493.5" y2="1286.2"/><line x1="152" y1="1214.0" x2="1493.5" y2="1214.0"/></g><line x1="152" y1="1575" x2="1493.5" y2="1575" stroke="#6e7079" stroke-width="2"/><text x="135.60" y="1583.40" font-size="23.9" fill="#6e7079" text-anchor="end">0</text><text x="135.60" y="1511.20" font-size="23.9" fill="#6e7079" text-anchor="end">500</text><text x="135.60" y="1439.00" font-size="23.9" fill="#6e7079" text-anchor="end">1K</text><text x="135.60" y="1366.80" font-size="23.9" fill="#6e7079" text-anchor="end">1.5K</text><text x="135.60" y="1294.60" font-size="23.9" fill="#6e7079" text-anchor="end">2K</text><text x="135.60" y="1222.40" font-size="23.9" fill="#6e7079" text-anchor="end">2.5K</text><g clip-path="url(#c3clip)"><text x="173.20" y="1611.70" font-size="23.9" fill="#6e7079" text-anchor="middle">September 28, 2023</text><text x="476.30" y="1611.70" font-size="23.9" fill="#6e7079" text-anchor="middle">October 5, 2023</text><text x="779.40" y="1611.70" font-size="23.9" fill="#6e7079" text-anchor="middle">October 12, 2023</text><text x="1082.50" y="1611.70" font-size="23.9" fill="#6e7079" text-anchor="middle">October 19, 2023</text><text x="1385.60" y="1611.70" font-size="23.9" fill="#6e7079" text-anchor="middle">October 26, 2023</text></g><path d="M173.20,1243.75C173.20,1243.75 194.87,1243.75 216.50,1243.75C238.17,1243.75 238.14,1246.35 259.80,1246.35C281.44,1246.35 281.44,1245.30 303.10,1244.76C324.74,1244.22 324.76,1244.18 346.40,1244.18C368.06,1244.18 368.05,1245.62 389.70,1245.62C411.35,1245.62 411.34,1244.43 433.00,1243.75C454.64,1243.06 454.65,1242.88 476.30,1242.88C497.95,1242.88 497.95,1243.46 519.60,1243.46C541.25,1243.46 541.25,1242.45 562.90,1242.45C584.55,1242.45 584.55,1242.45 606.20,1242.45C627.85,1242.45 627.85,1242.88 649.50,1242.88C671.15,1242.88 671.16,1242.88 692.80,1242.88C714.46,1242.88 714.44,1244.18 736.10,1244.47C757.74,1244.76 757.76,1244.76 779.40,1244.76C801.06,1244.76 801.04,1242.88 822.70,1242.88C844.34,1242.88 844.35,1242.88 866.00,1242.88C887.65,1242.88 887.65,1243.02 909.30,1243.17C930.95,1243.31 930.95,1243.46 952.60,1243.46C974.25,1243.46 974.25,1243.20 995.90,1242.88C1017.55,1242.56 1017.55,1242.70 1039.20,1242.16C1060.85,1241.62 1060.84,1240.71 1082.50,1240.71C1104.14,1240.71 1104.15,1241.00 1125.80,1241.00C1147.45,1241.00 1147.45,1241.00 1169.10,1241.00C1190.75,1241.00 1190.75,1239.70 1212.40,1239.70C1234.05,1239.70 1234.05,1239.70 1255.70,1239.70C1277.35,1239.70 1277.35,1239.70 1299.00,1239.70C1320.65,1239.70 1321.22,1239.70 1342.30,1239.70C1364.52,1239.70 1363.38,1226.02 1385.60,1225.26C1406.68,1224.54 1424.17,1224.54 1428.90,1224.54C1467.47,1224.54 1472.20,1575.00 1472.20,1575.00" fill="none" stroke="#861818" stroke-width="4" stroke-linejoin="round"/><path d="M173.20,1575.00C173.20,1575.00 194.85,1575.00 216.50,1575.00C238.15,1575.00 238.15,1573.84 259.80,1573.84C281.45,1573.84 281.45,1575.00 303.10,1575.00C324.75,1575.00 324.76,1575.00 346.40,1575.00C368.06,1575.00 368.05,1573.27 389.70,1573.27C411.35,1573.27 411.34,1575.00 433.00,1575.00C454.64,1575.00 454.65,1575.00 476.30,1575.00C497.95,1575.00 497.95,1573.84 519.60,1573.84C541.25,1573.84 541.25,1575.00 562.90,1575.00C584.55,1575.00 584.55,1575.00 606.20,1575.00C627.85,1575.00 627.85,1575.00 649.50,1575.00C671.15,1575.00 671.17,1575.00 692.80,1575.00C714.47,1575.00 714.43,1572.69 736.10,1572.69C757.73,1572.69 757.77,1572.69 779.40,1572.69C801.07,1572.69 801.03,1575.00 822.70,1575.00C844.33,1575.00 844.35,1575.00 866.00,1575.00C887.65,1575.00 887.65,1575.00 909.30,1575.00C930.95,1575.00 930.95,1574.13 952.60,1574.13C974.25,1574.13 974.25,1574.13 995.90,1574.13C1017.55,1574.13 1017.55,1575.00 1039.20,1575.00C1060.85,1575.00 1060.85,1575.00 1082.50,1575.00C1104.15,1575.00 1104.15,1575.00 1125.80,1575.00C1147.45,1575.00 1147.45,1573.84 1169.10,1573.84C1190.75,1573.84 1190.75,1575.00 1212.40,1575.00C1234.05,1575.00 1234.05,1575.00 1255.70,1575.00C1277.35,1575.00 1277.35,1575.00 1299.00,1575.00C1320.65,1575.00 1320.65,1574.13 1342.30,1574.13C1363.95,1574.13 1363.95,1574.13 1385.60,1574.13C1407.25,1574.13 1407.25,1575.00 1428.90,1575.00C1450.55,1575.00 1472.20,1575.00 1472.20,1575.00" fill="none" stroke="#c94a44" stroke-width="4" stroke-linejoin="round"/><path d="M173.20,1575.00C173.20,1575.00 194.85,1575.00 216.50,1575.00C238.15,1575.00 238.15,1575.00 259.80,1575.00C281.45,1575.00 281.45,1575.00 303.10,1575.00C324.75,1575.00 324.75,1575.00 346.40,1575.00C368.05,1575.00 368.05,1575.00 389.70,1575.00C411.35,1575.00 411.35,1575.00 433.00,1575.00C454.65,1575.00 454.65,1575.00 476.30,1575.00C497.95,1575.00 497.95,1575.00 519.60,1575.00C541.25,1575.00 541.25,1575.00 562.90,1575.00C584.55,1575.00 584.55,1575.00 606.20,1575.00C627.85,1575.00 627.85,1575.00 649.50,1575.00C671.15,1575.00 671.15,1575.00 692.80,1575.00C714.45,1575.00 714.45,1575.00 736.10,1575.00C757.75,1575.00 757.75,1575.00 779.40,1575.00C801.05,1575.00 801.05,1575.00 822.70,1575.00C844.35,1575.00 844.35,1575.00 866.00,1575.00C887.65,1575.00 887.65,1575.00 909.30,1575.00C930.95,1575.00 930.95,1575.00 952.60,1575.00C974.25,1575.00 974.25,1575.00 995.90,1575.00C1017.55,1575.00 1017.55,1575.00 1039.20,1575.00C1060.85,1575.00 1060.85,1575.00 1082.50,1575.00C1104.15,1575.00 1104.15,1575.00 1125.80,1575.00C1147.45,1575.00 1147.45,1575.00 1169.10,1575.00C1190.75,1575.00 1190.75,1575.00 1212.40,1575.00C1234.05,1575.00 1234.05,1575.00 1255.70,1575.00C1277.35,1575.00 1277.35,1575.00 1299.00,1575.00C1320.65,1575.00 1320.65,1575.00 1342.30,1575.00C1363.95,1575.00 1363.95,1575.00 1385.60,1575.00C1407.25,1575.00 1407.25,1575.00 1428.90,1575.00C1450.55,1575.00 1472.20,1575.00 1472.20,1575.00" fill="none" stroke="#778596" stroke-width="4" stroke-linejoin="round"/><circle cx="173.2" cy="1243.7" r="8" fill="#861818" opacity="0.8"/><circle cx="173.2" cy="1575" r="8" fill="#8a7c8a" opacity="0.95"/><circle cx="918.4" cy="1175.2" r="10" fill="#861818"/><text x="937.68" y="1183.50" font-size="23.5" fill="#333" textLength="160.84" lengthAdjust="spacingAndGlyphs">Opened Earlier</text><circle cx="1129.6" cy="1175.2" r="10" fill="#c94a44"/><text x="1149.19" y="1183.50" font-size="23.5" fill="#333" textLength="154.86" lengthAdjust="spacingAndGlyphs">Opened Today</text><circle cx="1335.9" cy="1175.2" r="10" fill="#778596"/><text x="1355.17" y="1183.50" font-size="23.5" fill="#333" textLength="128.93" lengthAdjust="spacingAndGlyphs">Suppressed</text><g clip-path="url(#tclip)"><text x="1661.94" y="1186.30" font-size="26" font-weight="bold" fill="#333" textLength="116.90" lengthAdjust="spacingAndGlyphs">Repository</text><g fill="#b5b5b5"><rect x="1793.4" y="1163.6" width="2.7" height="16.5"/><polygon points="1788.4,1179.5 1801.2,1179.5 1794.8,1185.0"/><rect x="1804.6" y="1168.0" width="2.7" height="16"/><polygon points="1799.4,1168.2 1812.2,1168.2 1805.9,1162.7"/></g><text x="1874.52" y="1186.30" font-size="26" font-weight="bold" fill="#333" textLength="105.78" lengthAdjust="spacingAndGlyphs">Organizat</text><text x="2017.20" y="1186.30" font-size="26" font-weight="bold" fill="#333" textLength="105.36" lengthAdjust="spacingAndGlyphs">Scan Item</text><g fill="#b5b5b5"><rect x="2134.5" y="1163.6" width="2.7" height="16.5"/><polygon points="2129.5,1179.5 2142.3,1179.5 2135.9,1185.0"/><rect x="2145.7" y="1168.0" width="2.7" height="16"/><polygon points="2140.5,1168.2 2153.3,1168.2 2147.0,1162.7"/></g><text x="2230.80" y="1186.30" font-size="26" font-weight="bold" fill="#333" textLength="80.56" lengthAdjust="spacingAndGlyphs">Scan ID</text><text x="2372.54" y="1186.30" font-size="26" font-weight="bold" fill="#333" textLength="84.46" lengthAdjust="spacingAndGlyphs">Git user</text><text x="2514.92" y="1186.30" font-size="26" font-weight="bold" fill="#333" textLength="105.27" lengthAdjust="spacingAndGlyphs">Failed issu</text><text x="2657.20" y="1186.30" font-size="26" font-weight="bold" fill="#333" textLength="67.69" lengthAdjust="spacingAndGlyphs">Status</text><g fill="#b5b5b5"><rect x="2738.5" y="1163.6" width="2.7" height="16.5"/><polygon points="2733.5,1179.5 2746.3,1179.5 2739.9,1185.0"/><rect x="2749.7" y="1168.0" width="2.7" height="16"/><polygon points="2744.5,1168.2 2757.3,1168.2 2751.0,1162.7"/></g><text x="2799.80" y="1186.30" font-size="26" font-weight="bold" fill="#333" textLength="53.21" lengthAdjust="spacingAndGlyphs">Time</text><g fill="#b5b5b5"><rect x="2866.0" y="1163.6" width="2.7" height="16.5"/><polygon points="2861.0,1179.5 2873.8,1179.5 2867.4,1185.0"/><rect x="2877.2" y="1168.0" width="2.7" height="16"/><polygon points="2872.0,1168.2 2884.8,1168.2 2878.5,1162.7"/></g><g clip-path="url(#gitclip)"><g fill="#b5b5b5"><rect x="2470.5" y="1163.6" width="2.7" height="16.5"/><polygon points="2465.5,1179.5 2478.3,1179.5 2471.9,1185.0"/><rect x="2481.7" y="1168.0" width="2.7" height="16"/><polygon points="2476.5,1168.2 2489.3,1168.2 2483.0,1162.7"/></g></g><g clip-path="url(#sidclip)"><g fill="#b5b5b5"><rect x="2324.5" y="1163.6" width="2.7" height="16.5"/><polygon points="2319.5,1179.5 2332.3,1179.5 2325.9,1185.0"/><rect x="2335.7" y="1168.0" width="2.7" height="16"/><polygon points="2330.5,1168.2 2343.3,1168.2 2337.0,1162.7"/></g></g><text x="1661.88" y="1279.90" font-size="24.5" fill="#2b2b2b" textLength="80.60" lengthAdjust="spacingAndGlyphs">app (cli)</text><text x="1874.39" y="1279.90" font-size="24.5" fill="#2b2b2b" textLength="75.43" lengthAdjust="spacingAndGlyphs">1075...</text><text x="2017.23" y="1279.90" font-size="24.5" fill="#2b2b2b" textLength="72.83" lengthAdjust="spacingAndGlyphs">master</text><text x="2230.00" y="1279.90" font-size="24.5" fill="#2f6bc6" textLength="13.63" lengthAdjust="spacingAndGlyphs">1</text><circle cx="2517.9" cy="1267.8" r="2.3" fill="#861818"/><circle cx="2523.9" cy="1267.8" r="2.3" fill="#861818"/><circle cx="2529.9" cy="1267.8" r="2.3" fill="#861818"/><circle cx="2535.9" cy="1267.8" r="2.3" fill="#861818"/><text x="2563.01" y="1279.90" font-size="24.5" fill="#2b2b2b" textLength="13.51" lengthAdjust="spacingAndGlyphs">2</text><circle cx="2672.9" cy="1271.0" r="15" fill="#55b257"/><polyline points="2663.3,1268.4 2669.6,1274.7 2684.7,1260.0" fill="none" stroke="#fff" stroke-width="3.8" stroke-linecap="butt" stroke-linejoin="miter"/><text x="2704.50" y="1279.90" font-size="24.5" fill="#2b2b2b" textLength="73.67" lengthAdjust="spacingAndGlyphs">Passed</text><text x="2797.85" y="1279.90" font-size="24.5" fill="#2b2b2b" textLength="189.92" lengthAdjust="spacingAndGlyphs">May 11, 2023 at...</text><text x="1661.88" y="1375.90" font-size="24.5" fill="#2b2b2b" textLength="80.60" lengthAdjust="spacingAndGlyphs">app (cli)</text><text x="1874.39" y="1375.90" font-size="24.5" fill="#2b2b2b" textLength="75.43" lengthAdjust="spacingAndGlyphs">1075...</text><text x="2017.23" y="1375.90" font-size="24.5" fill="#2b2b2b" textLength="72.83" lengthAdjust="spacingAndGlyphs">master</text><text x="2230.00" y="1375.90" font-size="24.5" fill="#2f6bc6" textLength="13.63" lengthAdjust="spacingAndGlyphs">2</text><circle cx="2517.9" cy="1363.8" r="2.3" fill="#861818"/><circle cx="2523.9" cy="1363.8" r="2.3" fill="#861818"/><circle cx="2529.9" cy="1363.8" r="2.3" fill="#861818"/><circle cx="2535.9" cy="1363.8" r="2.3" fill="#861818"/><text x="2563.01" y="1375.90" font-size="24.5" fill="#2b2b2b" textLength="13.51" lengthAdjust="spacingAndGlyphs">2</text><circle cx="2672.9" cy="1367.0" r="15" fill="#55b257"/><polyline points="2663.3,1364.4 2669.6,1370.7 2684.7,1356.0" fill="none" stroke="#fff" stroke-width="3.8" stroke-linecap="butt" stroke-linejoin="miter"/><text x="2704.50" y="1375.90" font-size="24.5" fill="#2b2b2b" textLength="73.67" lengthAdjust="spacingAndGlyphs">Passed</text><text x="2797.85" y="1375.90" font-size="24.5" fill="#2b2b2b" textLength="189.92" lengthAdjust="spacingAndGlyphs">May 11, 2023 at...</text><text x="1661.88" y="1471.90" font-size="24.5" fill="#2b2b2b" textLength="80.60" lengthAdjust="spacingAndGlyphs">app (cli)</text><text x="1874.39" y="1471.90" font-size="24.5" fill="#2b2b2b" textLength="75.43" lengthAdjust="spacingAndGlyphs">1075...</text><text x="2017.23" y="1471.90" font-size="24.5" fill="#2b2b2b" textLength="72.83" lengthAdjust="spacingAndGlyphs">master</text><text x="2231.00" y="1471.90" font-size="24.5" fill="#2f6bc6" textLength="12.58" lengthAdjust="spacingAndGlyphs">3</text><circle cx="2517.9" cy="1459.8" r="2.3" fill="#861818"/><circle cx="2523.9" cy="1459.8" r="2.3" fill="#861818"/><circle cx="2529.9" cy="1459.8" r="2.3" fill="#861818"/><circle cx="2535.9" cy="1459.8" r="2.3" fill="#861818"/><text x="2563.01" y="1471.90" font-size="24.5" fill="#2b2b2b" textLength="13.51" lengthAdjust="spacingAndGlyphs">2</text><circle cx="2672.9" cy="1463.0" r="15" fill="#55b257"/><polyline points="2663.3,1460.4 2669.6,1466.7 2684.7,1452.0" fill="none" stroke="#fff" stroke-width="3.8" stroke-linecap="butt" stroke-linejoin="miter"/><text x="2704.50" y="1471.90" font-size="24.5" fill="#2b2b2b" textLength="73.67" lengthAdjust="spacingAndGlyphs">Passed</text><text x="2797.85" y="1471.90" font-size="24.5" fill="#2b2b2b" textLength="189.92" lengthAdjust="spacingAndGlyphs">May 11, 2023 at...</text><text x="1661.86" y="1567.90" font-size="24.5" fill="#2b2b2b" textLength="73.03" lengthAdjust="spacingAndGlyphs">iac (cli)</text><text x="1874.39" y="1567.90" font-size="24.5" fill="#2b2b2b" textLength="75.43" lengthAdjust="spacingAndGlyphs">1075...</text><text x="2017.23" y="1567.90" font-size="24.5" fill="#2b2b2b" textLength="72.83" lengthAdjust="spacingAndGlyphs">master</text><text x="2230.00" y="1567.90" font-size="24.5" fill="#2f6bc6" textLength="13.63" lengthAdjust="spacingAndGlyphs">6</text><circle cx="2517.9" cy="1555.8" r="2.3" fill="#cf5a55"/><circle cx="2523.9" cy="1555.8" r="2.3" fill="#cf5a55"/><circle cx="2529.9" cy="1555.8" r="2.3" fill="#cf5a55"/><circle cx="2535.9" cy="1555.8" r="1.9" fill="none" stroke="#c8c8c8" stroke-width="0.9"/><text x="2563.01" y="1567.90" font-size="24.5" fill="#2b2b2b" textLength="13.51" lengthAdjust="spacingAndGlyphs">2</text><circle cx="2672.9" cy="1559.0" r="15" fill="#55b257"/><polyline points="2663.3,1556.4 2669.6,1562.7 2684.7,1548.0" fill="none" stroke="#fff" stroke-width="3.8" stroke-linecap="butt" stroke-linejoin="miter"/><text x="2704.50" y="1567.90" font-size="24.5" fill="#2b2b2b" textLength="73.67" lengthAdjust="spacingAndGlyphs">Passed</text><text x="2797.85" y="1567.90" font-size="24.5" fill="#2b2b2b" textLength="189.92" lengthAdjust="spacingAndGlyphs">May 11, 2023 at...</text><text x="1661.87" y="1663.90" font-size="24.5" fill="#2b2b2b" textLength="92.00" lengthAdjust="spacingAndGlyphs">code (cli)</text><text x="1874.39" y="1663.90" font-size="24.5" fill="#2b2b2b" textLength="75.43" lengthAdjust="spacingAndGlyphs">1075...</text><text x="2017.23" y="1663.90" font-size="24.5" fill="#2b2b2b" textLength="72.83" lengthAdjust="spacingAndGlyphs">master</text><text x="2230.00" y="1663.90" font-size="24.5" fill="#2f6bc6" textLength="13.63" lengthAdjust="spacingAndGlyphs">1</text><circle cx="2517.9" cy="1651.8" r="2.3" fill="#861818"/><circle cx="2523.9" cy="1651.8" r="2.3" fill="#861818"/><circle cx="2529.9" cy="1651.8" r="2.3" fill="#861818"/><circle cx="2535.9" cy="1651.8" r="2.3" fill="#861818"/><text x="2564.22" y="1663.90" font-size="24.5" fill="#2b2b2b" textLength="26.80" lengthAdjust="spacingAndGlyphs">10</text><circle cx="2672.9" cy="1655.0" r="15" fill="#55b257"/><polyline points="2663.3,1652.4 2669.6,1658.7 2684.7,1644.0" fill="none" stroke="#fff" stroke-width="3.8" stroke-linecap="butt" stroke-linejoin="miter"/><text x="2704.50" y="1663.90" font-size="24.5" fill="#2b2b2b" textLength="73.67" lengthAdjust="spacingAndGlyphs">Passed</text><text x="2797.86" y="1663.90" font-size="24.5" fill="#2b2b2b" textLength="189.89" lengthAdjust="spacingAndGlyphs">May 12, 2023 at...</text><g fill="#e6e8e8"><rect x="1839.2" y="1153.4" width="3.7" height="47.3"/><rect x="1839.2" y="1247.3" width="3.7" height="47.5"/><rect x="1839.2" y="1343.3" width="3.7" height="47.5"/><rect x="1839.2" y="1439.3" width="3.7" height="47.5"/><rect x="1839.2" y="1535.3" width="3.7" height="47.5"/><rect x="1839.2" y="1631.3" width="3.7" height="47.5"/><rect x="1981.2" y="1153.4" width="3.7" height="47.3"/><rect x="1981.2" y="1247.3" width="3.7" height="47.5"/><rect x="1981.2" y="1343.3" width="3.7" height="47.5"/><rect x="1981.2" y="1439.3" width="3.7" height="47.5"/><rect x="1981.2" y="1535.3" width="3.7" height="47.5"/><rect x="1981.2" y="1631.3" width="3.7" height="47.5"/><rect x="2194.8" y="1153.4" width="3.7" height="47.3"/><rect x="2194.8" y="1247.3" width="3.7" height="47.5"/><rect x="2194.8" y="1343.3" width="3.7" height="47.5"/><rect x="2194.8" y="1439.3" width="3.7" height="47.5"/><rect x="2194.8" y="1535.3" width="3.7" height="47.5"/><rect x="2194.8" y="1631.3" width="3.7" height="47.5"/><rect x="2337.2" y="1153.4" width="3.7" height="47.3"/><rect x="2337.2" y="1247.3" width="3.7" height="47.5"/><rect x="2337.2" y="1343.3" width="3.7" height="47.5"/><rect x="2337.2" y="1439.3" width="3.7" height="47.5"/><rect x="2337.2" y="1535.3" width="3.7" height="47.5"/><rect x="2337.2" y="1631.3" width="3.7" height="47.5"/><rect x="2479.0" y="1153.4" width="3.7" height="47.3"/><rect x="2479.0" y="1247.3" width="3.7" height="47.5"/><rect x="2479.0" y="1343.3" width="3.7" height="47.5"/><rect x="2479.0" y="1439.3" width="3.7" height="47.5"/><rect x="2479.0" y="1535.3" width="3.7" height="47.5"/><rect x="2479.0" y="1631.3" width="3.7" height="47.5"/><rect x="2621.1" y="1153.4" width="3.7" height="47.3"/><rect x="2621.1" y="1247.3" width="3.7" height="47.5"/><rect x="2621.1" y="1343.3" width="3.7" height="47.5"/><rect x="2621.1" y="1439.3" width="3.7" height="47.5"/><rect x="2621.1" y="1535.3" width="3.7" height="47.5"/><rect x="2621.1" y="1631.3" width="3.7" height="47.5"/><rect x="2764.3" y="1153.4" width="3.7" height="47.3"/><rect x="2764.3" y="1247.3" width="3.7" height="47.5"/><rect x="2764.3" y="1343.3" width="3.7" height="47.5"/><rect x="2764.3" y="1439.3" width="3.7" height="47.5"/><rect x="2764.3" y="1535.3" width="3.7" height="47.5"/><rect x="2764.3" y="1631.3" width="3.7" height="47.5"/></g></g>
</svg>
<div class="fade"></div>
</body></html>
